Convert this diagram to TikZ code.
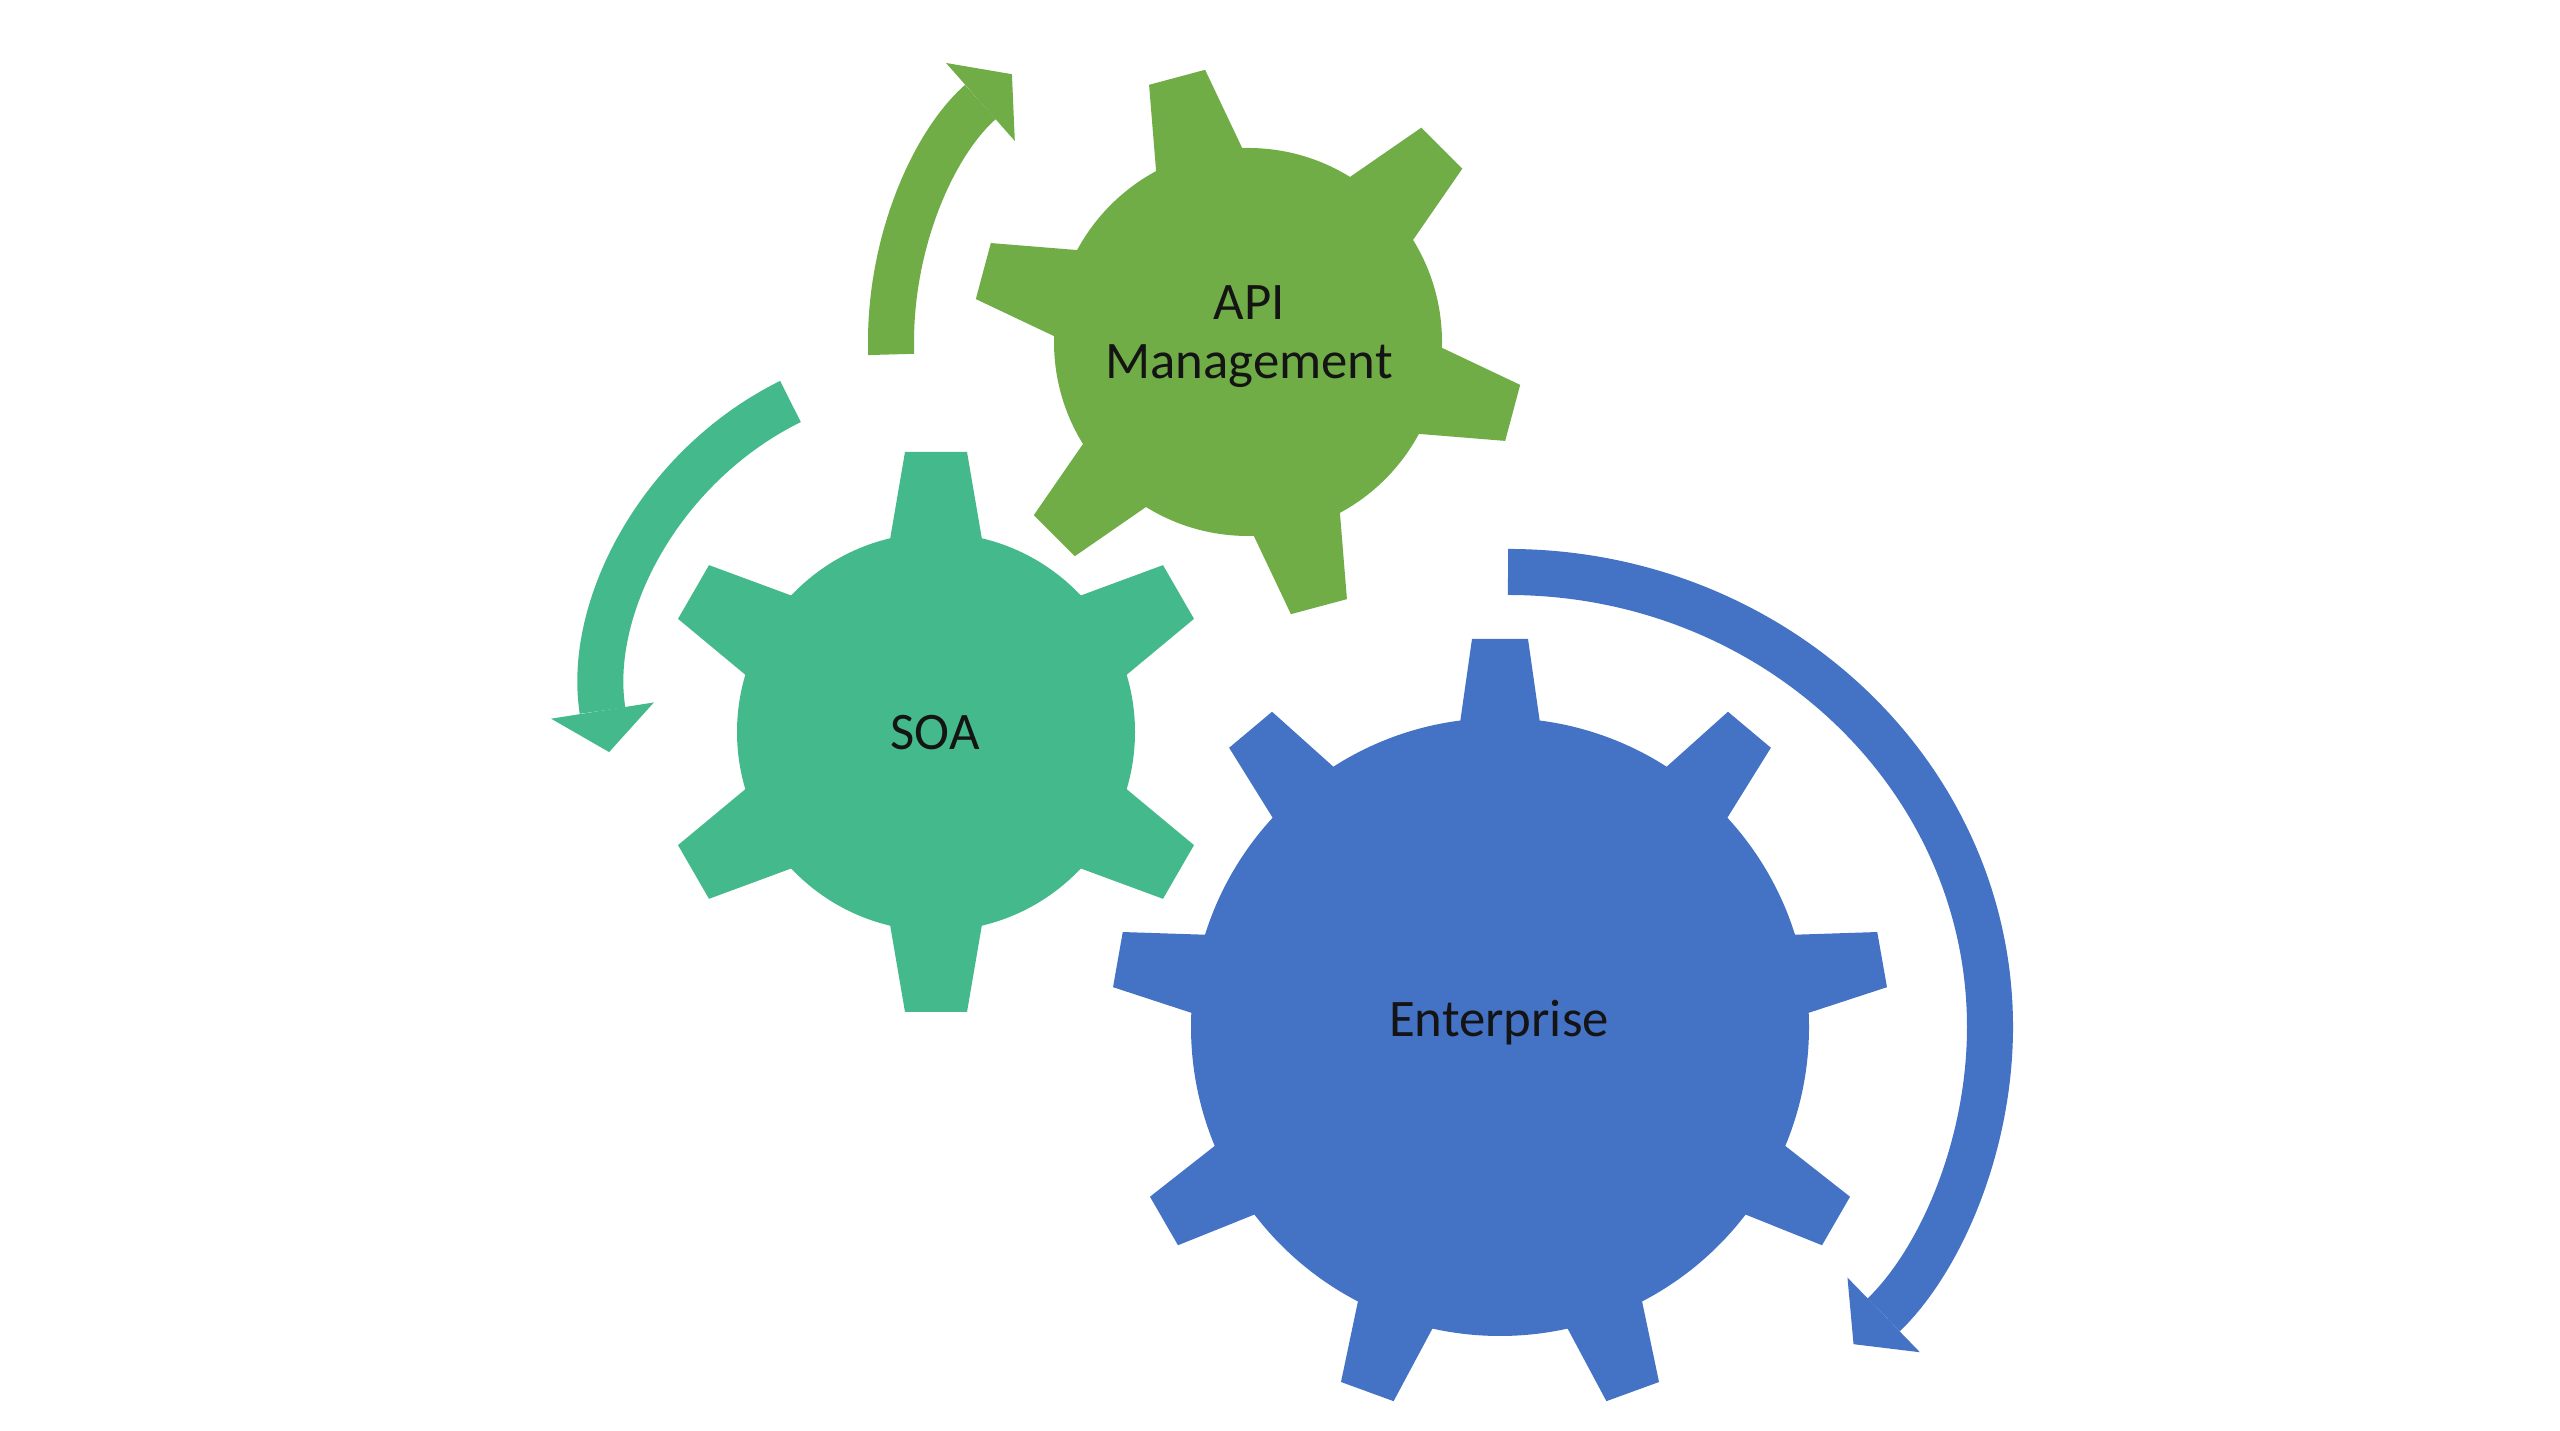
\documentclass[tikz,border=0pt]{standalone}
\usepackage{fontspec}
\setmainfont{Carlito}
\usetikzlibrary{arrows.meta}
\definecolor{apigreen}{RGB}{112,173,71}
\definecolor{soateal}{RGB}{68,186,140}
\definecolor{entblue}{RGB}{68,114,196}

\begin{document}
\begin{tikzpicture}[x=0.01cm, y=0.01cm,
    lbl/.style={font=\fontsize{15pt}{16.8pt}\selectfont, text=black!92, align=center, inner sep=0pt},
    turn/.style={line width=4.6mm, line cap=butt,
      -{Triangle[length=4.2mm, width=10.4mm, line width=0pt]}}]
  \fill[white] (0,0) rectangle (2560,1431);
  \useasboundingbox (0,0) rectangle (2560,1431);
  % gear centres
  \coordinate (api-c) at (1248,1089);
  \coordinate (soa-c) at (936,699);
  \coordinate (ent-c) at (1500,404);
  % API Management gear
  \fill[apigreen] (api-c) circle[radius=194];
  \foreach \a in {45,105,...,345}
    \fill[apigreen, shift={(api-c)}, rotate=\a] (170,-48) -- (274,-29) -- (274,29) -- (170,48) -- cycle;
  % SOA gear
  \fill[soateal] (soa-c) circle[radius=199];
  \foreach \a in {30,90,...,330}
    \fill[soateal, shift={(soa-c)}, rotate=\a] (175,-49) -- (280,-31) -- (280,31) -- (175,49) -- cycle;
  % Enterprise gear
  \fill[entblue] (ent-c) circle[radius=309];
  \foreach \a in {90,130,...,410}
    \fill[entblue, shift={(ent-c)}, rotate=\a] (290,-42) -- (388,-28) -- (388,28) -- (290,42) -- cycle;
  % turning arrows
  \draw[turn, apigreen] ([shift={(182:357)}]api-c) arc[start angle=182, end angle=131.4, radius=357];
  \draw[turn, soateal] ([shift={(116.3:333)}]938,731) arc[start angle=116.3, end angle=189, radius=333];
  \draw[turn, entblue] ([shift={(90:455)}]1508,404) arc[start angle=90, end angle=-44.2, x radius=482, y radius=455];
  % labels
  \node[lbl] (api) at (1249,1094) {API\\Management};
  \node[lbl] (soa) at (935,698) {SOA};
  \node[lbl] (ent) at (1499,408) {Enterprise};
\end{tikzpicture}
\end{document}
